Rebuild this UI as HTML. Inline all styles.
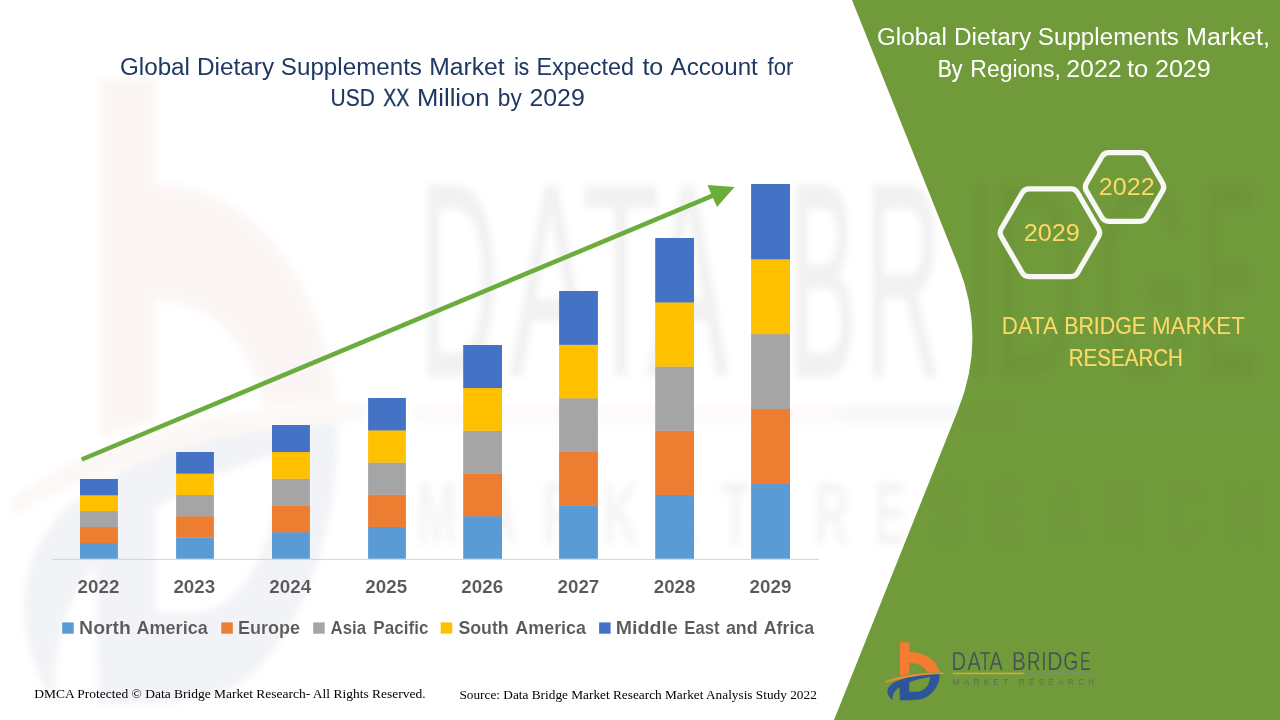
<!DOCTYPE html>
<html lang="en"><head><meta charset="utf-8"><title>Global Dietary Supplements Market</title>
<style>html,body{margin:0;padding:0;background:#fff;overflow:hidden}svg{display:block}text{white-space:pre}</style>
</head><body>
<svg width="1280" height="720" viewBox="0 0 1280 720">
<defs>
<filter id="wblur" x="-5%" y="-5%" width="110%" height="110%"><feGaussianBlur stdDeviation="0.6 0.35"/><feColorMatrix type="saturate" values="0.55"/></filter>
<filter id="soft" x="-5%" y="-5%" width="110%" height="110%"><feGaussianBlur stdDeviation="0.45"/></filter>
<g id="logoicon">
<path fill="#f47b30" d="M900 642.3 H909.4 V652.1 C920 651.8 936 657 939.6 672.3 L927.4 672.8 C925.2 666.8 918.6 663 909.4 662.9 V674 L900 675.6 Z"/>
<path fill="#ef8a3c" d="M884.6 682.7 C897 676.2 916 672.2 946.6 673 C922 674.4 902.5 678.2 884.6 682.7 Z"/>
<path fill="none" stroke="#ef8a3c" stroke-width="1.5" stroke-linecap="round" d="M886 681.9 C899 676.6 918 673.6 943 673.3"/>
<path fill="#2f5597" fill-rule="evenodd" d="M892.6 700.3 C885.6 694.2 885.4 687.6 893.5 682.7 C903 677.4 920 674.6 939.6 674.2 C940.2 683 934.6 692.6 925.6 697.4 C920.6 699.9 913 700.3 899.9 700.2 L899.4 687.3 C894.6 690.4 892.2 694.6 892.6 700.3 Z M909.2 682.2 C916 679.8 923 678 930 677 C929.8 683.8 926.6 688.6 920.6 691 C917.4 692 913.4 691.9 909.2 691.7 Z"/>
</g>
<g id="logotext">
<text x="951.54" y="669.5" font-family='"Liberation Sans", sans-serif' font-size="25.8" stroke="#719b3a" stroke-width="0.25" paint-order="fill stroke" fill="#474d5c" textLength="14.55" lengthAdjust="spacingAndGlyphs">D</text>
<text x="967.50" y="669.5" font-family='"Liberation Sans", sans-serif' font-size="25.8" stroke="#719b3a" stroke-width="0.25" paint-order="fill stroke" fill="#474d5c" textLength="13.19" lengthAdjust="spacingAndGlyphs">A</text>
<text x="979.40" y="669.5" font-family='"Liberation Sans", sans-serif' font-size="25.8" stroke="#719b3a" stroke-width="0.25" paint-order="fill stroke" fill="#474d5c" textLength="11.13" lengthAdjust="spacingAndGlyphs">T</text>
<text x="989.40" y="669.5" font-family='"Liberation Sans", sans-serif' font-size="25.8" stroke="#719b3a" stroke-width="0.25" paint-order="fill stroke" fill="#474d5c" textLength="13.10" lengthAdjust="spacingAndGlyphs">A</text>
<text x="1011.97" y="669.5" font-family='"Liberation Sans", sans-serif' font-size="25.8" stroke="#719b3a" stroke-width="0.25" paint-order="fill stroke" fill="#474d5c" textLength="14.01" lengthAdjust="spacingAndGlyphs">B</text>
<text x="1027.06" y="669.5" font-family='"Liberation Sans", sans-serif' font-size="25.8" stroke="#719b3a" stroke-width="0.25" paint-order="fill stroke" fill="#474d5c" textLength="13.39" lengthAdjust="spacingAndGlyphs">R</text>
<text x="1041.33" y="669.5" font-family='"Liberation Sans", sans-serif' font-size="25.8" stroke="#719b3a" stroke-width="0.25" paint-order="fill stroke" fill="#474d5c" textLength="5.26" lengthAdjust="spacingAndGlyphs">I</text>
<text x="1047.16" y="669.5" font-family='"Liberation Sans", sans-serif' font-size="25.8" stroke="#719b3a" stroke-width="0.25" paint-order="fill stroke" fill="#474d5c" textLength="15.25" lengthAdjust="spacingAndGlyphs">D</text>
<text x="1063.25" y="669.5" font-family='"Liberation Sans", sans-serif' font-size="25.8" stroke="#719b3a" stroke-width="0.25" paint-order="fill stroke" fill="#474d5c" textLength="15.05" lengthAdjust="spacingAndGlyphs">G</text>
<text x="1080.06" y="669.5" font-family='"Liberation Sans", sans-serif' font-size="25.8" stroke="#719b3a" stroke-width="0.25" paint-order="fill stroke" fill="#474d5c" textLength="10.67" lengthAdjust="spacingAndGlyphs">E</text>
<rect x="952.6" y="672.7" width="71.6" height="1.5" fill="#dca63f"/>
<rect x="1024.2" y="672.7" width="71" height="1.5" fill="#6d8f88"/>
<text x="952.8" y="685.4" font-family='"Liberation Sans", sans-serif' font-size="8.2" fill="#636b58" textLength="141.2" lengthAdjust="spacing">MARKET RESEARCH</text>
</g>
<g id="wmtext">
<text x="953.30" y="669.8" font-family='"Liberation Sans", sans-serif' font-size="25.4" stroke="#2b303c" stroke-width="0.30" fill="#2b303c" textLength="13.18" lengthAdjust="spacingAndGlyphs">D</text>
<text x="968.40" y="669.8" font-family='"Liberation Sans", sans-serif' font-size="25.4" stroke="#2b303c" stroke-width="0.19" fill="#2b303c" textLength="13.61" lengthAdjust="spacingAndGlyphs">A</text>
<text x="980.40" y="669.8" font-family='"Liberation Sans", sans-serif' font-size="25.4" stroke="#2b303c" stroke-width="0.15" fill="#2b303c" textLength="12.92" lengthAdjust="spacingAndGlyphs">T</text>
<text x="991.23" y="669.8" font-family='"Liberation Sans", sans-serif' font-size="25.4" stroke="#2b303c" stroke-width="0.19" fill="#2b303c" textLength="13.61" lengthAdjust="spacingAndGlyphs">A</text>
<text x="1014.90" y="669.8" font-family='"Liberation Sans", sans-serif' font-size="25.4" stroke="#2b303c" stroke-width="0.37" fill="#2b303c" textLength="11.29" lengthAdjust="spacingAndGlyphs">B</text>
<text x="1027.50" y="669.8" font-family='"Liberation Sans", sans-serif' font-size="25.4" stroke="#2b303c" stroke-width="0.33" fill="#2b303c" textLength="12.80" lengthAdjust="spacingAndGlyphs">R</text>
<text x="1043.84" y="669.8" font-family='"Liberation Sans", sans-serif' font-size="25.4" stroke="#2b303c" stroke-width="0.22" fill="#2b303c" textLength="5.49" lengthAdjust="spacingAndGlyphs">I</text>
<text x="1048.82" y="669.8" font-family='"Liberation Sans", sans-serif' font-size="25.4" stroke="#2b303c" stroke-width="0.21" fill="#2b303c" textLength="14.52" lengthAdjust="spacingAndGlyphs">D</text>
<text x="1065.90" y="669.8" font-family='"Liberation Sans", sans-serif' font-size="25.4" stroke="#2b303c" stroke-width="0.15" fill="#2b303c" textLength="16.46" lengthAdjust="spacingAndGlyphs">G</text>
<text x="1083.80" y="669.8" font-family='"Liberation Sans", sans-serif' font-size="25.4" stroke="#2b303c" stroke-width="0.52" fill="#2b303c" textLength="9.27" lengthAdjust="spacingAndGlyphs">E</text>
<rect x="952.6" y="672.7" width="71.6" height="1.5" fill="#f0a070"/>
<rect x="1024.2" y="672.7" width="71" height="1.5" fill="#6d8f88"/>
<text x="952.8" y="685.4" font-family='"Liberation Sans", sans-serif' font-size="8.2" font-weight="bold" fill="#555a55" textLength="141.2" lengthAdjust="spacing">MARKET RESEARCH</text>
</g>
</defs>
<rect width="1280" height="720" fill="#ffffff"/>
<g opacity="0.068" filter="url(#wblur)" transform="translate(-5300.4 -6858.7) scale(6.0 10.8)"><use href="#logoicon"/></g>
<g opacity="0.062" filter="url(#wblur)" transform="translate(-5300.4 -6858.7) scale(6.0 10.8)"><use href="#wmtext"/></g>
<clipPath id="pc"><path d="M852 0 L958 265 Q987 337.5 958 410 L834 720 H1280 V0 Z"/></clipPath>
<path fill="#719b3a" d="M852 0 L958 265 Q987 337.5 958 410 L834 720 H1280 V0 Z"/>
<g clip-path="url(#pc)"><g opacity="0.04" filter="url(#wblur)" transform="translate(-5300.4 -6858.7) scale(6.0 10.8)"><use href="#logoicon"/><use href="#wmtext"/></g></g>
<rect x="80" y="542.84" width="37.9" height="15.96" fill="#5b9bd5"/>
<rect x="80" y="526.88" width="37.9" height="16.26" fill="#ed7d31"/>
<rect x="80" y="510.92" width="37.9" height="16.26" fill="#a5a5a5"/>
<rect x="80" y="494.96" width="37.9" height="16.26" fill="#ffc000"/>
<rect x="80" y="479.00" width="37.9" height="16.26" fill="#4472c4"/>
<rect x="176.1" y="537.44" width="37.8" height="21.36" fill="#5b9bd5"/>
<rect x="176.1" y="516.08" width="37.8" height="21.66" fill="#ed7d31"/>
<rect x="176.1" y="494.72" width="37.8" height="21.66" fill="#a5a5a5"/>
<rect x="176.1" y="473.36" width="37.8" height="21.66" fill="#ffc000"/>
<rect x="176.1" y="452.00" width="37.8" height="21.66" fill="#4472c4"/>
<rect x="272" y="532.04" width="37.9" height="26.76" fill="#5b9bd5"/>
<rect x="272" y="505.28" width="37.9" height="27.06" fill="#ed7d31"/>
<rect x="272" y="478.52" width="37.9" height="27.06" fill="#a5a5a5"/>
<rect x="272" y="451.76" width="37.9" height="27.06" fill="#ffc000"/>
<rect x="272" y="425.00" width="37.9" height="27.06" fill="#4472c4"/>
<rect x="368.1" y="526.64" width="37.8" height="32.16" fill="#5b9bd5"/>
<rect x="368.1" y="494.48" width="37.8" height="32.46" fill="#ed7d31"/>
<rect x="368.1" y="462.32" width="37.8" height="32.46" fill="#a5a5a5"/>
<rect x="368.1" y="430.16" width="37.8" height="32.46" fill="#ffc000"/>
<rect x="368.1" y="398.00" width="37.8" height="32.46" fill="#4472c4"/>
<rect x="463.2" y="516.04" width="38.8" height="42.76" fill="#5b9bd5"/>
<rect x="463.2" y="473.28" width="38.8" height="43.06" fill="#ed7d31"/>
<rect x="463.2" y="430.52" width="38.8" height="43.06" fill="#a5a5a5"/>
<rect x="463.2" y="387.76" width="38.8" height="43.06" fill="#ffc000"/>
<rect x="463.2" y="345.00" width="38.8" height="43.06" fill="#4472c4"/>
<rect x="559.1" y="505.24" width="38.8" height="53.56" fill="#5b9bd5"/>
<rect x="559.1" y="451.68" width="38.8" height="53.86" fill="#ed7d31"/>
<rect x="559.1" y="398.12" width="38.8" height="53.86" fill="#a5a5a5"/>
<rect x="559.1" y="344.56" width="38.8" height="53.86" fill="#ffc000"/>
<rect x="559.1" y="291.00" width="38.8" height="53.86" fill="#4472c4"/>
<rect x="655.2" y="494.64" width="38.8" height="64.16" fill="#5b9bd5"/>
<rect x="655.2" y="430.48" width="38.8" height="64.46" fill="#ed7d31"/>
<rect x="655.2" y="366.32" width="38.8" height="64.46" fill="#a5a5a5"/>
<rect x="655.2" y="302.16" width="38.8" height="64.46" fill="#ffc000"/>
<rect x="655.2" y="238.00" width="38.8" height="64.46" fill="#4472c4"/>
<rect x="751.1" y="483.84" width="38.9" height="74.96" fill="#5b9bd5"/>
<rect x="751.1" y="408.88" width="38.9" height="75.26" fill="#ed7d31"/>
<rect x="751.1" y="333.92" width="38.9" height="75.26" fill="#a5a5a5"/>
<rect x="751.1" y="258.96" width="38.9" height="75.26" fill="#ffc000"/>
<rect x="751.1" y="184.00" width="38.9" height="75.26" fill="#4472c4"/>
<rect x="52" y="558.9" width="767" height="0.95" fill="#d2d2d2"/>
<line x1="81.7" y1="459.5" x2="714" y2="195.2" stroke="#6aad3d" stroke-width="4.6"/>
<polygon points="734.6,186.9 707.4,185 717,206.9" fill="#6aad3d"/>
<g opacity="0.999">
<text x="119.97" y="74.6" font-family='"Liberation Sans", sans-serif' font-size="23.5" fill="#1f3864" textLength="69.99" lengthAdjust="spacingAndGlyphs">Global</text>
<text x="196.96" y="74.6" font-family='"Liberation Sans", sans-serif' font-size="23.5" fill="#1f3864" textLength="77.18" lengthAdjust="spacingAndGlyphs">Dietary</text>
<text x="280.87" y="74.6" font-family='"Liberation Sans", sans-serif' font-size="23.5" fill="#1f3864" textLength="141.10" lengthAdjust="spacingAndGlyphs">Supplements</text>
<text x="429.25" y="74.6" font-family='"Liberation Sans", sans-serif' font-size="23.5" fill="#1f3864" textLength="75.46" lengthAdjust="spacingAndGlyphs">Market</text>
<text x="514.13" y="74.6" font-family='"Liberation Sans", sans-serif' font-size="23.5" stroke="#1f3864" stroke-width="0.23" fill="#1f3864" textLength="14.83" lengthAdjust="spacingAndGlyphs">is</text>
<text x="536.50" y="74.6" font-family='"Liberation Sans", sans-serif' font-size="23.5" fill="#1f3864" textLength="97.56" lengthAdjust="spacingAndGlyphs">Expected</text>
<text x="642.40" y="74.6" font-family='"Liberation Sans", sans-serif' font-size="23.5" fill="#1f3864" textLength="20.87" lengthAdjust="spacingAndGlyphs">to</text>
<text x="670.60" y="74.6" font-family='"Liberation Sans", sans-serif' font-size="23.5" fill="#1f3864" textLength="87.22" lengthAdjust="spacingAndGlyphs">Account</text>
<text x="767.50" y="74.6" font-family='"Liberation Sans", sans-serif' font-size="23.5" fill="#1f3864" textLength="25.84" lengthAdjust="spacingAndGlyphs">for</text>
<text x="330.61" y="106.3" font-family='"Liberation Sans", sans-serif' font-size="23.5" stroke="#1f3864" stroke-width="0.19" fill="#1f3864" textLength="44.26" lengthAdjust="spacingAndGlyphs">USD</text>
<text x="383.30" y="106.3" font-family='"Liberation Sans", sans-serif' font-size="23.5" stroke="#1f3864" stroke-width="0.31" fill="#1f3864" textLength="26.03" lengthAdjust="spacingAndGlyphs">XX</text>
<text x="416.91" y="106.3" font-family='"Liberation Sans", sans-serif' font-size="23.5" fill="#1f3864" textLength="72.66" lengthAdjust="spacingAndGlyphs">Million</text>
<text x="497.84" y="106.3" font-family='"Liberation Sans", sans-serif' font-size="23.5" fill="#1f3864" textLength="23.92" lengthAdjust="spacingAndGlyphs">by</text>
<text x="529.44" y="106.3" font-family='"Liberation Sans", sans-serif' font-size="23.5" fill="#1f3864" textLength="55.29" lengthAdjust="spacingAndGlyphs">2029</text>
<text x="876.97" y="44.5" font-family='"Liberation Sans", sans-serif' font-size="23.5" fill="#ffffff" textLength="69.99" lengthAdjust="spacingAndGlyphs">Global</text>
<text x="953.96" y="44.5" font-family='"Liberation Sans", sans-serif' font-size="23.5" fill="#ffffff" textLength="77.18" lengthAdjust="spacingAndGlyphs">Dietary</text>
<text x="1037.87" y="44.5" font-family='"Liberation Sans", sans-serif' font-size="23.5" fill="#ffffff" textLength="141.10" lengthAdjust="spacingAndGlyphs">Supplements</text>
<text x="1186.13" y="44.5" font-family='"Liberation Sans", sans-serif' font-size="23.5" fill="#ffffff" textLength="83.81" lengthAdjust="spacingAndGlyphs">Market,</text>
<text x="937.70" y="76.6" font-family='"Liberation Sans", sans-serif' font-size="23.5" stroke="#ffffff" stroke-width="0.17" fill="#ffffff" textLength="24.78" lengthAdjust="spacingAndGlyphs">By</text>
<text x="970.32" y="76.6" font-family='"Liberation Sans", sans-serif' font-size="23.5" fill="#ffffff" textLength="90.57" lengthAdjust="spacingAndGlyphs">Regions,</text>
<text x="1066.24" y="76.6" font-family='"Liberation Sans", sans-serif' font-size="23.5" fill="#ffffff" textLength="55.29" lengthAdjust="spacingAndGlyphs">2022</text>
<text x="1126.90" y="76.6" font-family='"Liberation Sans", sans-serif' font-size="23.5" fill="#ffffff" textLength="21.38" lengthAdjust="spacingAndGlyphs">to</text>
<text x="1154.93" y="76.6" font-family='"Liberation Sans", sans-serif' font-size="23.5" fill="#ffffff" textLength="55.91" lengthAdjust="spacingAndGlyphs">2029</text>
<path d="M1001.3 236.6 Q999.0 232.7 1001.3 228.8 L1022.2 192.7 Q1024.5 188.8 1029.0 188.8 L1070.9 188.8 Q1075.4 188.8 1077.6 192.7 L1098.5 228.8 Q1100.8 232.7 1098.5 236.6 L1077.6 272.7 Q1075.4 276.6 1070.9 276.6 L1029.0 276.6 Q1024.5 276.6 1022.2 272.7 Z" fill="none" stroke="#f7f7f5" stroke-width="5.2" stroke-linejoin="round"/>
<path d="M1086.4 190.9 Q1084.1 187.0 1086.4 183.1 L1102.0 156.5 Q1104.3 152.7 1108.8 152.7 L1140.2 152.7 Q1144.7 152.7 1147.0 156.5 L1162.6 183.1 Q1164.9 187.0 1162.6 190.9 L1147.0 217.5 Q1144.7 221.3 1140.2 221.3 L1108.8 221.3 Q1104.3 221.3 1102.0 217.5 Z" fill="none" stroke="#f7f7f5" stroke-width="5.2" stroke-linejoin="round"/>
<text x="1023.83" y="240.5" font-family='"Liberation Sans", sans-serif' font-size="23.5" fill="#ffd966" textLength="56.02" lengthAdjust="spacingAndGlyphs">2029</text>
<text x="1098.83" y="194.9" font-family='"Liberation Sans", sans-serif' font-size="23.5" fill="#ffd966" textLength="55.81" lengthAdjust="spacingAndGlyphs">2022</text>
<text x="1001.74" y="333.7" font-family='"Liberation Sans", sans-serif' font-size="23.2" fill="#ffd966" textLength="56.25" lengthAdjust="spacingAndGlyphs">DATA</text>
<text x="1064.18" y="333.7" font-family='"Liberation Sans", sans-serif' font-size="23.2" stroke="#ffd966" stroke-width="0.14" fill="#ffd966" textLength="81.95" lengthAdjust="spacingAndGlyphs">BRIDGE</text>
<text x="1151.94" y="333.7" font-family='"Liberation Sans", sans-serif' font-size="23.2" fill="#ffd966" textLength="92.92" lengthAdjust="spacingAndGlyphs">MARKET</text>
<text x="1068.71" y="365.7" font-family='"Liberation Sans", sans-serif' font-size="23.2" stroke="#ffd966" stroke-width="0.20" fill="#ffd966" textLength="114.23" lengthAdjust="spacingAndGlyphs">RESEARCH</text>
<text x="77.6" y="593.0" font-family='"Liberation Sans", sans-serif' font-size="17.9" font-weight="bold" stroke="#ffffff" stroke-opacity="0.5" stroke-width="0.2" paint-order="fill stroke" fill="#595959" textLength="41.8" lengthAdjust="spacingAndGlyphs">2022</text>
<text x="173.4" y="593.0" font-family='"Liberation Sans", sans-serif' font-size="17.9" font-weight="bold" stroke="#ffffff" stroke-opacity="0.5" stroke-width="0.2" paint-order="fill stroke" fill="#595959" textLength="41.8" lengthAdjust="spacingAndGlyphs">2023</text>
<text x="269.3" y="593.0" font-family='"Liberation Sans", sans-serif' font-size="17.9" font-weight="bold" stroke="#ffffff" stroke-opacity="0.5" stroke-width="0.2" paint-order="fill stroke" fill="#595959" textLength="41.8" lengthAdjust="spacingAndGlyphs">2024</text>
<text x="365.3" y="593.0" font-family='"Liberation Sans", sans-serif' font-size="17.9" font-weight="bold" stroke="#ffffff" stroke-opacity="0.5" stroke-width="0.2" paint-order="fill stroke" fill="#595959" textLength="41.8" lengthAdjust="spacingAndGlyphs">2025</text>
<text x="461.3" y="593.0" font-family='"Liberation Sans", sans-serif' font-size="17.9" font-weight="bold" stroke="#ffffff" stroke-opacity="0.5" stroke-width="0.2" paint-order="fill stroke" fill="#595959" textLength="41.8" lengthAdjust="spacingAndGlyphs">2026</text>
<text x="557.5" y="593.0" font-family='"Liberation Sans", sans-serif' font-size="17.9" font-weight="bold" stroke="#ffffff" stroke-opacity="0.5" stroke-width="0.2" paint-order="fill stroke" fill="#595959" textLength="41.8" lengthAdjust="spacingAndGlyphs">2027</text>
<text x="653.7" y="593.0" font-family='"Liberation Sans", sans-serif' font-size="17.9" font-weight="bold" stroke="#ffffff" stroke-opacity="0.5" stroke-width="0.2" paint-order="fill stroke" fill="#595959" textLength="41.8" lengthAdjust="spacingAndGlyphs">2028</text>
<text x="749.6" y="593.0" font-family='"Liberation Sans", sans-serif' font-size="17.9" font-weight="bold" stroke="#ffffff" stroke-opacity="0.5" stroke-width="0.2" paint-order="fill stroke" fill="#595959" textLength="41.8" lengthAdjust="spacingAndGlyphs">2029</text>
<rect x="62.2" y="622.4" width="11.5" height="11.3" fill="#5b9bd5"/>
<text x="79.14" y="633.8" font-family='"Liberation Sans", sans-serif' font-size="17.5" font-weight="bold" stroke="#ffffff" stroke-opacity="0.5" stroke-width="0.2" paint-order="fill stroke" fill="#595959" textLength="51.83" lengthAdjust="spacingAndGlyphs">North</text>
<text x="136.50" y="633.8" font-family='"Liberation Sans", sans-serif' font-size="17.5" font-weight="bold" stroke="#ffffff" stroke-opacity="0.5" stroke-width="0.2" paint-order="fill stroke" fill="#595959" textLength="71.22" lengthAdjust="spacingAndGlyphs">America</text>
<rect x="221.3" y="622.4" width="11.5" height="11.3" fill="#ed7d31"/>
<text x="238.07" y="633.8" font-family='"Liberation Sans", sans-serif' font-size="17.5" font-weight="bold" stroke="#ffffff" stroke-opacity="0.5" stroke-width="0.2" paint-order="fill stroke" fill="#595959" textLength="62.05" lengthAdjust="spacingAndGlyphs">Europe</text>
<rect x="313.2" y="622.4" width="11.5" height="11.3" fill="#a5a5a5"/>
<text x="330.60" y="633.8" font-family='"Liberation Sans", sans-serif' font-size="17.5" font-weight="bold" stroke="#ffffff" stroke-opacity="0.5" stroke-width="0.2" paint-order="fill stroke" fill="#595959" textLength="35.44" lengthAdjust="spacingAndGlyphs">Asia</text>
<text x="373.32" y="633.8" font-family='"Liberation Sans", sans-serif' font-size="17.5" font-weight="bold" stroke="#ffffff" stroke-opacity="0.5" stroke-width="0.2" paint-order="fill stroke" fill="#595959" textLength="55.12" lengthAdjust="spacingAndGlyphs">Pacific</text>
<rect x="440.7" y="622.4" width="11.5" height="11.3" fill="#ffc000"/>
<text x="458.40" y="633.8" font-family='"Liberation Sans", sans-serif' font-size="17.5" font-weight="bold" stroke="#ffffff" stroke-opacity="0.5" stroke-width="0.2" paint-order="fill stroke" fill="#595959" textLength="50.30" lengthAdjust="spacingAndGlyphs">South</text>
<text x="515.30" y="633.8" font-family='"Liberation Sans", sans-serif' font-size="17.5" font-weight="bold" stroke="#ffffff" stroke-opacity="0.5" stroke-width="0.2" paint-order="fill stroke" fill="#595959" textLength="70.73" lengthAdjust="spacingAndGlyphs">America</text>
<rect x="599.1" y="622.4" width="11.5" height="11.3" fill="#4472c4"/>
<text x="615.78" y="633.8" font-family='"Liberation Sans", sans-serif' font-size="17.5" font-weight="bold" stroke="#ffffff" stroke-opacity="0.5" stroke-width="0.2" paint-order="fill stroke" fill="#595959" textLength="62.02" lengthAdjust="spacingAndGlyphs">Middle</text>
<text x="684.35" y="633.8" font-family='"Liberation Sans", sans-serif' font-size="17.5" font-weight="bold" stroke="#ffffff" stroke-opacity="0.5" stroke-width="0.2" paint-order="fill stroke" fill="#595959" textLength="35.19" lengthAdjust="spacingAndGlyphs">East</text>
<text x="725.90" y="633.8" font-family='"Liberation Sans", sans-serif' font-size="17.5" font-weight="bold" stroke="#ffffff" stroke-opacity="0.5" stroke-width="0.2" paint-order="fill stroke" fill="#595959" textLength="31.70" lengthAdjust="spacingAndGlyphs">and</text>
<text x="763.70" y="633.8" font-family='"Liberation Sans", sans-serif' font-size="17.5" font-weight="bold" stroke="#ffffff" stroke-opacity="0.5" stroke-width="0.2" paint-order="fill stroke" fill="#595959" textLength="50.43" lengthAdjust="spacingAndGlyphs">Africa</text>
<text x="34.2" y="698.0" font-family='"Liberation Serif", serif' font-size="13.33" fill="#000000" textLength="391.4" lengthAdjust="spacingAndGlyphs">DMCA Protected © Data Bridge Market Research- All Rights Reserved.</text>
<text x="459.4" y="698.6" font-family='"Liberation Serif", serif' font-size="13.33" fill="#000000" textLength="357.4" lengthAdjust="spacingAndGlyphs">Source: Data Bridge Market Research Market Analysis Study 2022</text>
</g>
<g filter="url(#soft)"><use href="#logoicon"/><use href="#logotext"/></g>
</svg>
</body></html>
